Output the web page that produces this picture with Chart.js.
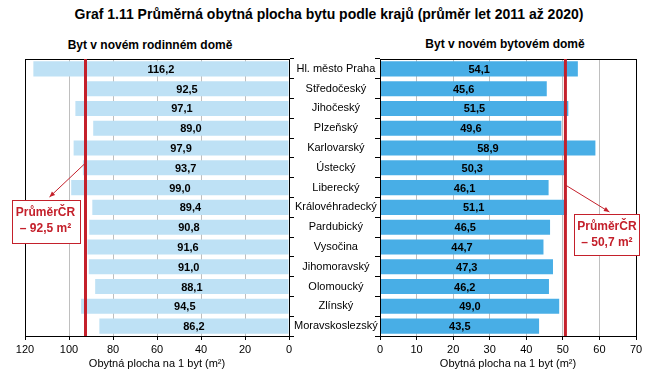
<!DOCTYPE html>
<html lang="cs">
<head>
<meta charset="utf-8">
<script src="https://cdn.jsdelivr.net/npm/chart.js@4.4.1/dist/chart.umd.min.js"></script>
<style>
    body { margin: 0; background: #fff; font-family: 'Liberation Sans', Arial, sans-serif; }
    #wrap { position: relative; width: 658px; height: 392px; overflow: hidden; }
    .ttl { position: absolute; font-weight: bold; color: #000; white-space: nowrap; text-align: center; }
    canvas { position: absolute; top: 0; }
</style>
</head>
<body>
<div id="wrap">
    <div class="ttl" id="mainTitle" style="left:0; width:658px; top:6px; font-size:14px;">Graf 1.11 Průměrná obytná plocha bytu podle krajů (průměr let 2011 až 2020)</div>
    <div class="ttl" style="left:0; width:300px; top:38px; font-size:12px;">Byt v novém rodinném domě</div>
    <div class="ttl" style="left:385px; width:240px; top:37px; font-size:12px;">Byt v novém bytovém domě</div>
    <div style="position:absolute; left:0; top:0; width:380px; height:392px;"><canvas id="leftChart"></canvas></div>
    <div style="position:absolute; left:370px; top:0; width:288px; height:392px;"><canvas id="rightChart"></canvas></div>
</div>
<script>
// ========================================
// Data
// ========================================
const regions = [
    'Hl. město Praha', 'Středočeský', 'Jihočeský', 'Plzeňský', 'Karlovarský',
    'Ústecký', 'Liberecký', 'Královéhradecký', 'Pardubický', 'Vysočina',
    'Jihomoravský', 'Olomoucký', 'Zlínský', 'Moravskoslezský'
];
// Byt v novém rodinném domě (m2)
const familyHouse = [116.2, 92.5, 97.1, 89.0, 97.9, 93.7, 99.0, 89.4, 90.8, 91.6, 91.0, 88.1, 94.5, 86.2];
// Byt v novém bytovém domě (m2)
const apartmentHouse = [54.1, 45.6, 51.5, 49.6, 58.9, 50.3, 46.1, 51.1, 46.5, 44.7, 47.3, 46.2, 49.0, 43.5];
const avgFamily = 92.5;
const avgApartment = 50.7;
const leftTicks = [0, 20, 40, 60, 80, 100, 120];
const rightTicks = [0, 10, 20, 30, 40, 50, 60, 70];

const FONT = "'Liberation Sans', Arial, sans-serif";
const RED = '#C4202B';
const fmt = v => v.toFixed(1).replace('.', ',');

// frame, average line, value labels, annotation box
function makeOverlay(avg, note) {
    return {
        id: 'overlay',
        afterDatasetsDraw(chart) {
            const { ctx, chartArea: a, scales } = chart;
            const xs = scales.x;
            ctx.save();
            // frame
            ctx.strokeStyle = '#000';
            ctx.lineWidth = 1;
            ctx.strokeRect(Math.round(a.left) + 0.5, Math.round(a.top) + 0.5,
                Math.round(a.right - a.left), Math.round(a.bottom - a.top));
            // average line
            const ax = xs.getPixelForValue(avg);
            ctx.strokeStyle = RED;
            ctx.lineWidth = 3;
            ctx.beginPath();
            ctx.moveTo(ax, a.top);
            ctx.lineTo(ax, a.bottom);
            ctx.stroke();
            // value labels
            const meta = chart.getDatasetMeta(0);
            ctx.fillStyle = '#000';
            ctx.font = 'bold 11px ' + FONT;
            ctx.textAlign = 'center';
            ctx.textBaseline = 'middle';
            meta.data.forEach((bar, i) => {
                const v = chart.data.datasets[0].data[i];
                ctx.fillText(fmt(v), (bar.x + bar.base) / 2, bar.y + 1);
            });
            // arrow
            const sx = ax + note.arrowFrom[0], sy = a.top + note.arrowFrom[1];
            const ex = ax + note.arrowTo[0], ey = a.top + note.arrowTo[1];
            ctx.strokeStyle = RED;
            ctx.fillStyle = RED;
            ctx.lineWidth = 1;
            ctx.beginPath();
            ctx.moveTo(sx, sy);
            ctx.lineTo(ex, ey);
            ctx.stroke();
            const ang = Math.atan2(ey - sy, ex - sx);
            ctx.beginPath();
            ctx.moveTo(ex, ey);
            ctx.lineTo(ex - 6 * Math.cos(ang - 0.4), ey - 6 * Math.sin(ang - 0.4));
            ctx.lineTo(ex - 6 * Math.cos(ang + 0.4), ey - 6 * Math.sin(ang + 0.4));
            ctx.closePath();
            ctx.fill();
            // box
            const bx = ax + note.box[0], by = a.top + note.box[1];
            ctx.fillStyle = '#fff';
            ctx.fillRect(bx, by, note.box[2], note.box[3]);
            ctx.strokeStyle = RED;
            ctx.strokeRect(Math.round(bx) + 0.5, Math.round(by) + 0.5, note.box[2], note.box[3]);
            ctx.fillStyle = RED;
            ctx.font = 'bold 12px ' + FONT;
            const cx = bx + note.box[2] / 2;
            ctx.fillText('PrůměrČR', cx, by + 13);
            ctx.fillText('– ' + fmt(avg) + ' m²', cx, by + 29);
            ctx.restore();
        }
    };
}

function baseOptions(ticks, max, reverse) {
    return {
        indexAxis: 'y',
        responsive: false,
        animation: false,
        events: [],
        plugins: { legend: { display: false }, tooltip: { enabled: false } },
        scales: {
            x: {
                min: 0,
                max: max,
                reverse: reverse,
                afterBuildTicks: axis => { axis.ticks = ticks.map(v => ({ value: v })); },
                ticks: { color: '#000', font: { family: FONT, size: 11 }, padding: 3, maxRotation: 0 },
                grid: { color: '#BFBFBF', tickColor: '#000', tickLength: 4 },
                border: { color: '#000' },
                title: {
                    display: true,
                    text: 'Obytná plocha na 1 byt (m²)',
                    color: '#000',
                    font: { family: FONT, size: 11 },
                    padding: { top: 0, bottom: 0 }
                },
                afterFit: axis => { axis.height = 35; }
            },
            y: {
                grid: { drawOnChartArea: false, offset: true, tickColor: '#000', tickLength: 5 },
                border: { color: '#000' }
            }
        }
    };
}

function initializeCharts() {
    // left: family houses, reversed axis, region labels on the right side
    const leftOpts = baseOptions(leftTicks, 120, true);
    leftOpts.layout = { padding: { left: 25, right: 0, top: 59, bottom: 21 } };
    leftOpts.scales.y.position = 'right';
    leftOpts.scales.y.ticks = { color: '#000', font: { family: FONT, size: 11 }, crossAlign: 'center', padding: 0 };
    leftOpts.scales.y.afterFit = axis => { axis.width = 91; };

    new Chart(document.getElementById('leftChart'), {
        type: 'bar',
        data: {
            labels: regions,
            datasets: [{
                data: familyHouse,
                backgroundColor: '#BEE1F5',
                barPercentage: 0.76,
                categoryPercentage: 1
            }]
        },
        options: leftOpts,
        plugins: [makeOverlay(avgFamily, {
            arrowFrom: [0, 104], arrowTo: [-36, 138], box: [-74, 141, 68, 43]
        })]
    });

    // right: apartment houses
    const rightOpts = baseOptions(rightTicks, 70, false);
    rightOpts.layout = { padding: { left: 0, right: 22, top: 59, bottom: 21 } };
    rightOpts.scales.y.ticks = { callback: () => '' };
    rightOpts.scales.y.afterFit = axis => { axis.width = 10; };

    new Chart(document.getElementById('rightChart'), {
        type: 'bar',
        data: {
            labels: regions,
            datasets: [{
                data: apartmentHouse,
                backgroundColor: '#48AEE6',
                barPercentage: 0.76,
                categoryPercentage: 1
            }]
        },
        options: rightOpts,
        plugins: [makeOverlay(avgApartment, {
            arrowFrom: [0, 126], arrowTo: [44, 153], box: [9, 155, 65, 41]
        })]
    });
}

document.getElementById('leftChart').width = 380;
document.getElementById('leftChart').height = 392;
document.getElementById('rightChart').width = 288;
document.getElementById('rightChart').height = 392;
initializeCharts();
</script>
</body>
</html>
